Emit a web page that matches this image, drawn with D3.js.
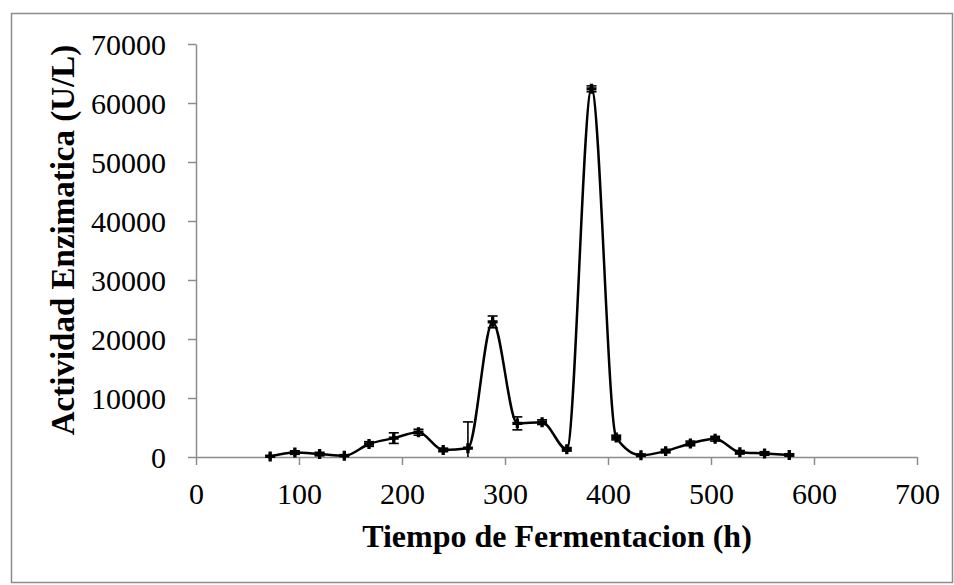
<!DOCTYPE html>
<html>
<head>
<meta charset="utf-8">
<script src="https://cdn.jsdelivr.net/npm/d3@7"></script>
<style>
  body { margin: 0; background: #fff; }
  text { font-family: "Liberation Serif", "Times New Roman", serif; }
</style>
</head>
<body>
<script>
var times = [72, 96, 120, 144, 168, 192, 216, 240, 264, 288, 312, 336, 360, 384, 408, 432, 456, 480, 504, 528, 552, 576];
var activity = [100, 750, 500, 200, 2200, 3200, 4200, 1200, 1500, 22900, 5700, 5900, 1300, 62400, 3300, 300, 1000, 2300, 3100, 800, 600, 350];
var errors = [150, 300, 300, 200, 400, 900, 500, 300, 4450, 1000, 1100, 400, 300, 500, 400, 200, 300, 400, 400, 300, 300, 200];
var xTicks = [0, 100, 200, 300, 400, 500, 600, 700];
var yTicks = [0, 10000, 20000, 30000, 40000, 50000, 60000, 70000];

var width = 954, height = 585;

var svg = d3.select("body").append("svg")
  .attr("width", width)
  .attr("height", height);

// chart border
svg.append("rect")
  .attr("x", 11.5).attr("y", 13.5)
  .attr("width", 941).attr("height", 569)
  .attr("fill", "none")
  .attr("stroke", "#8c8c8c")
  .attr("stroke-width", 1.5);

var x = d3.scaleLinear().domain([0, 700]).range([196, 917]);
var y = d3.scaleLinear().domain([0, 70000]).range([457, 44]);

var axisColor = "#8c8c8c";

var xAxis = svg.append("g")
  .attr("transform", "translate(0," + y(0) + ")")
  .call(d3.axisBottom(x).tickValues(xTicks).tickSize(8).tickSizeOuter(0).tickPadding(12).tickFormat(d3.format("d")));

var yAxis = svg.append("g")
  .attr("transform", "translate(" + x(0) + ",0)")
  .call(d3.axisLeft(y).tickValues(yTicks).tickSize(8).tickSizeOuter(0).tickPadding(22).tickFormat(d3.format("d")));

[xAxis, yAxis].forEach(function(a) {
  a.attr("font-family", null);
  a.select(".domain").attr("stroke", axisColor).attr("stroke-width", 1.5);
  a.selectAll(".tick line").attr("stroke", axisColor).attr("stroke-width", 1.5);
  a.selectAll(".tick text")
    .attr("fill", "#000")
    .style("font-family", '"Liberation Serif", serif')
    .style("font-size", "30px");
});
yAxis.selectAll(".tick text").attr("dy", "0.35em");
xAxis.selectAll(".tick text").attr("dy", "0.9em");

var pts = times.map(function(t, i) {
  return {t: t, v: activity[i], e: errors[i]};
});

// error bars
var eb = svg.append("g").attr("stroke", "#000").attr("stroke-width", 1.6);
pts.forEach(function(d) {
  var lo = Math.max(0, d.v - d.e), hi = d.v + d.e;
  var cx = x(d.t);
  eb.append("line").attr("x1", cx).attr("x2", cx).attr("y1", y(lo)).attr("y2", y(hi));
  eb.append("line").attr("x1", cx - 5).attr("x2", cx + 5).attr("y1", y(hi)).attr("y2", y(hi));
  if (d.v - d.e > 0) {
    eb.append("line").attr("x1", cx - 5).attr("x2", cx + 5).attr("y1", y(lo)).attr("y2", y(lo));
  }
});

// smoothed line
var line = d3.line()
  .x(function(d) { return x(d.t); })
  .y(function(d) { return y(d.v); })
  .curve(d3.curveMonotoneX);

svg.append("path")
  .datum(pts)
  .attr("d", line)
  .attr("fill", "none")
  .attr("stroke", "#000")
  .attr("stroke-width", 2.5);

// markers
var mk = svg.append("g").selectAll("g")
  .data(pts)
  .enter().append("g")
  .attr("transform", function(d) { return "translate(" + x(d.t) + "," + y(d.v) + ")"; });

mk.append("path")
  .attr("d", d3.symbol().type(d3.symbolCross).size(55))
  .attr("fill", "#000");
mk.append("path")
  .attr("d", d3.symbol().type(d3.symbolDiamond).size(26))
  .attr("fill", "#000");

// axis titles
svg.append("text")
  .attr("x", 557)
  .attr("y", 547)
  .attr("text-anchor", "middle")
  .style("font-size", "32px")
  .style("font-weight", "bold")
  .text("Tiempo de Fermentacion (h)");

svg.append("text")
  .attr("transform", "translate(74,240) rotate(-90)")
  .attr("text-anchor", "middle")
  .style("font-size", "33px")
  .style("font-weight", "bold")
  .text("Actividad Enzimatica (U/L)");
</script>
</body>
</html>
